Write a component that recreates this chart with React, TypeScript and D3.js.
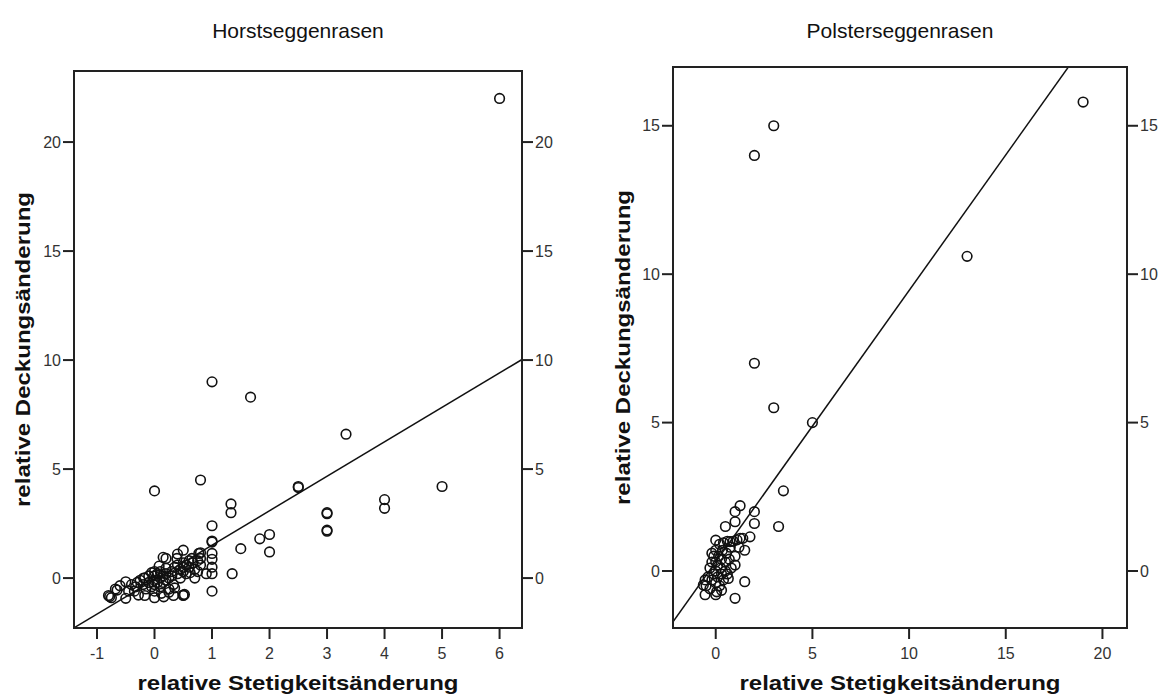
import * as d3 from 'd3';

// relative Stetigkeitsänderung (x) / relative Deckungsänderung (y)
const horstPoints: [number, number][] = [
    [6, 22], [1, 9], [1.67, 8.3], [3.33, 6.6], [0.8, 4.5], [0, 4], [2.5, 4.2], [2.5, 4.15], [5, 4.2],
    [4, 3.6], [4, 3.2], [1.33, 3.4], [1.33, 3.0], [3, 3], [3, 2.95], [3, 2.2], [3, 2.15], [1, 2.4],
    [1, 1.7], [1, 1.65], [1.83, 1.8], [2, 2], [1.5, 1.35], [2, 1.2], [1, 1.13], [1, 0.86], [1, 0.5],
    [1, 0.2], [0.9, 0.2], [1.35, 0.2], [1, -0.6], [0.5, -0.8], [0.5, -0.78], [0.52, -0.75],
    [-0.78, -0.85], [-0.75, -0.9], [-0.8, -0.8], [-0.5, -0.17], [-0.5, -0.93], [-0.65, -0.55],
    [-0.68, -0.5], [0, -0.9], [-0.17, -0.8], [0.33, -0.8], [0.16, -0.86], [-0.28, -0.78],
    [0.15, 0.95], [0.2, 0.9], [0.5, 1.28], [0.4, 1.1], [0.8, 1.16], [0.77, 1.13], [0.7, 0],
    [0.39, 0.9], [-0.19, 0],
    [-0.33, -0.4], [-0.3, -0.2], [-0.25, -0.1], [-0.2, -0.3], [-0.17, 0.0], [-0.15, -0.5], [-0.1, -0.2],
    [-0.1, 0.1], [-0.05, -0.4], [0, -0.1], [0, 0.1], [0, -0.3], [0, -0.6], [0.05, 0.2], [0.05, -0.2],
    [0.1, 0.0], [0.1, -0.4], [0.1, 0.3], [0.15, 0.1], [0.15, -0.2], [0.2, 0.2], [0.2, -0.1], [0.2, 0.45],
    [0.25, 0.0], [0.25, -0.5], [0.3, 0.3], [0.3, 0.1], [0.33, -0.3], [0.35, 0.5], [0.4, 0.2], [0.4, 0.6],
    [0.45, 0.4], [0.5, 0.5], [0.5, 0.7], [0.5, 0.3], [0.55, 0.6], [0.6, 0.8], [0.6, 0.5], [0.65, 0.9],
    [0.67, 0.7], [0.7, 0.4], [0.75, 0.8], [0.8, 0.6], [0.8, 0.9], [0.25, -0.65], [-0.4, -0.3],
    [-0.45, -0.6], [0.12, -0.7], [0.35, -0.45], [0.55, 0.2], [0.75, 0.3], [0.0, 0.3],
    [-0.6, -0.35], [-0.35, -0.6], [0.08, 0.55], [0.45, 0.0], [0.62, 0.25], [-0.05, 0.25],
];

const polsterPoints: [number, number][] = [
    [19, 15.8], [3, 15], [2, 14], [13, 10.6], [2, 7], [3, 5.5], [5, 5], [3.5, 2.7], [3.25, 1.5],
    [2, 2], [2, 1.6], [1.26, 2.2], [1, 2], [1, 1.66], [0.5, 1.5], [0, 1.04], [1.5, 0.7], [1.5, -0.36],
    [1, -0.92], [-0.55, -0.8], [0, -0.8], [-0.55, -0.3], [1, 0.2], [1.77, 1.15], [1.26, 1.1],
    [0.74, 0.99], [0.65, -0.25], [-0.64, -0.47],
    [-0.5, -0.5], [-0.4, -0.2], [-0.3, -0.6], [-0.3, 0.1], [-0.2, -0.3], [-0.2, 0.3], [-0.1, -0.1],
    [-0.1, 0.5], [0, 0.0], [0, -0.4], [0, 0.3], [0, 0.7], [0.05, -0.7], [0.1, 0.2], [0.1, -0.2],
    [0.15, 0.5], [0.2, 0.9], [0.2, -0.5], [0.25, 0.1], [0.3, 0.4], [0.3, -0.1], [0.35, 0.7], [0.4, 0.95],
    [0.4, -0.3], [0.5, 0.3], [0.5, 0.0], [0.55, 0.6], [0.6, 1.0], [0.7, 0.4], [0.75, 0.8], [0.8, 0.1],
    [0.9, 1.0], [1.0, 0.5], [1.1, 1.05], [1.2, 0.8], [1.4, 1.1], [0.3, -0.65], [-0.2, 0.6], [0.6, -0.1],
];

// fit lines: [intercept, slope]
const horstFit = [-0.07, 1.58];
const polsterFit = [0.31, 0.914];

const horstXTicks = [-1, 0, 1, 2, 3, 4, 5, 6];
const horstYTicks = [0, 5, 10, 15, 20];
const polsterXTicks = [0, 5, 10, 15, 20];
const polsterYTicks = [0, 5, 10, 15];

const FONT = 'Liberation Sans, Arial, sans-serif';

interface PanelProps {
    title: string;
    points: [number, number][];
    fit: number[];
    xDomain: [number, number];
    yDomain: [number, number];
    xTicks: number[];
    yTicks: number[];
    box: { left: number; right: number; top: number; bottom: number };
    yTitleX: number;
    id: string;
}

function Panel({ title, points, fit, xDomain, yDomain, xTicks, yTicks, box, yTitleX, id }: PanelProps) {
    const x = d3.scaleLinear().domain(xDomain).range([box.left, box.right]);
    const y = d3.scaleLinear().domain(yDomain).range([box.bottom, box.top]);
    const cx = (box.left + box.right) / 2;
    const cy = (box.top + box.bottom) / 2;

    const line = d3
        .line<number>()
        .x((d) => x(d))
        .y((d) => y(fit[0] + fit[1] * d));

    return (
        <g>
            <text x={cx} y={38} textAnchor='middle' fontSize={21} fontFamily={FONT} fill='#111'>
                {title}
            </text>
            <clipPath id={id}>
                <rect x={box.left} y={box.top} width={box.right - box.left} height={box.bottom - box.top} />
            </clipPath>
            <path d={line(xDomain) ?? ''} stroke='#111' strokeWidth={1.5} fill='none' clipPath={`url(#${id})`} />
            {points.map((p, i) => (
                <circle key={i} cx={x(p[0])} cy={y(p[1])} r={4.8} fill='none' stroke='#111' strokeWidth={1.6} />
            ))}
            <rect
                x={box.left}
                y={box.top}
                width={box.right - box.left}
                height={box.bottom - box.top}
                fill='none'
                stroke='#222'
                strokeWidth={2}
            />
            {xTicks.map((t) => (
                <g key={t} transform={`translate(${x(t)}, ${box.bottom})`}>
                    <line y1={0} y2={11} stroke='#222' strokeWidth={2} />
                    <text y={31} textAnchor='middle' fontSize={16} fontFamily={FONT} fill='#333'>
                        {t}
                    </text>
                </g>
            ))}
            {yTicks.map((t) => (
                <g key={t} transform={`translate(0, ${y(t)})`}>
                    <line x1={box.left - 11} x2={box.left} stroke='#222' strokeWidth={2} />
                    <text x={box.left - 13} dy='0.35em' textAnchor='end' fontSize={16} fontFamily={FONT} fill='#333'>
                        {t}
                    </text>
                    <line x1={box.right} x2={box.right + 11} stroke='#222' strokeWidth={2} />
                    <text x={box.right + 13} dy='0.35em' textAnchor='start' fontSize={16} fontFamily={FONT} fill='#333'>
                        {t}
                    </text>
                </g>
            ))}
            <text
                x={cx}
                y={690}
                textAnchor='middle'
                fontSize={21}
                fontWeight='bold'
                fontFamily={FONT}
                fill='#111'
                textLength={321}
                lengthAdjust='spacingAndGlyphs'
            >
                relative Stetigkeitsänderung
            </text>
            <text
                transform={`translate(${yTitleX}, ${cy}) rotate(-90)`}
                textAnchor='middle'
                fontSize={21}
                fontWeight='bold'
                fontFamily={FONT}
                fill='#111'
                textLength={315}
                lengthAdjust='spacingAndGlyphs'
            >
                relative Deckungsänderung
            </text>
        </g>
    );
}

export default function App() {
    return (
        <svg width={1166} height={698} style={{ position: 'absolute', left: 0, top: 0, background: '#fff' }}>
            <rect width={1166} height={698} fill='#fff' />
            <Panel
                id='clipHorst'
                title='Horstseggenrasen'
                points={horstPoints}
                fit={horstFit}
                xDomain={[-1.4, 6.39]}
                yDomain={[-2.29, 23.26]}
                xTicks={horstXTicks}
                yTicks={horstYTicks}
                box={{ left: 74, right: 522, top: 71, bottom: 628 }}
                yTitleX={30}
            />
            <Panel
                id='clipPolster'
                title='Polsterseggenrasen'
                points={polsterPoints}
                fit={polsterFit}
                xDomain={[-2.21, 21.27]}
                yDomain={[-1.92, 16.98]}
                xTicks={polsterXTicks}
                yTicks={polsterYTicks}
                box={{ left: 673, right: 1127, top: 67, bottom: 628 }}
                yTitleX={630}
            />
        </svg>
    );
}
